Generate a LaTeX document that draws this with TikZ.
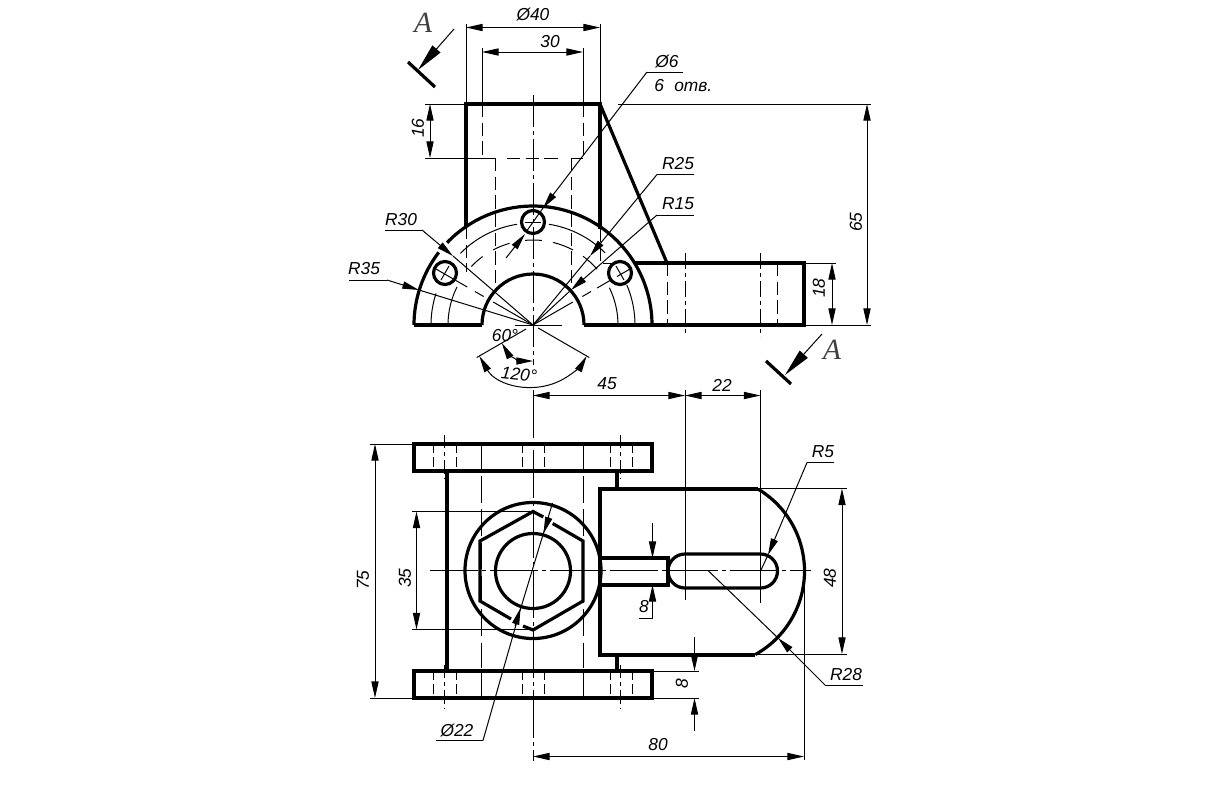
\documentclass[tikz,border=0pt]{standalone}
\usepackage{fontspec}
\setmainfont{Liberation Sans}
\newfontfamily\cutfont{Liberation Serif}
\usetikzlibrary{arrows.meta}
\tikzset{
  contour/.style={line width=2.4pt,line join=miter},
  thinline/.style={line width=0.75pt},
  hidden/.style={line width=0.75pt,dash pattern=on 10pt off 4pt},
  axisline/.style={line width=0.75pt,dash pattern=on 24pt off 3pt on 3pt off 3pt},
  dimline/.style={line width=0.75pt,{Triangle[length=12.5pt,width=5.4pt]}-{Triangle[length=12.5pt,width=5.4pt]}},
  leader/.style={line width=0.75pt,-{Triangle[length=12.5pt,width=5.4pt]}},
  cutarrow/.style={line width=0.75pt,-{Triangle[length=21pt,width=8pt]}},
  lbl/.style={font=\itshape\fontsize{13}{15}\selectfont,inner sep=0pt},
  cutlbl/.style={font=\cutfont\itshape\fontsize{22}{24}\selectfont,inner sep=0pt,text=black!75}
}
\begin{document}
\begin{tikzpicture}[x=0.75pt,y=-0.75pt]
\path[use as bounding box,fill=white] (0,0) rectangle (1224,786);

\draw[contour] (466,226) -- (466,104) -- (600,104) -- (600,229);
\draw[contour] (600,104) -- (667,263);
\draw[contour] (634,263) -- (804,263) -- (804,325) -- (584,325);
\draw[contour] (482,325) -- (414,325);
\draw[contour] (414,325) arc (180:217.6:119);
\draw[contour] (533,325) ++(223.8:119) arc (223.8:360:119);
\draw[contour] (584,325) arc (360:180:51);
\draw[contour] (533,222) circle (11.5);
\draw[contour] (445,273) circle (11.5);
\draw[contour] (620,273) circle (11.5);

\foreach \a/\b in {180/198,224.6/261,279/315,337/360}
  \draw[thinline] (533,325) ++(\a:102) arc (\a:\b:102);
\foreach \a/\b in {180/206.6,223.5/233.7,242/254,264.7/276,283.6/298,306/319,334/360}
  \draw[thinline] (533,325) ++(\a:85) arc (\a:\b:85);

\draw[thinline] (533,325) -- ++(210:46);
\draw[thinline] (533,325) ++(210:57) -- ++(210:10);
\draw[thinline] (533,325) ++(210:76) -- ++(210:36);
\draw[thinline] (533,325) -- ++(330:46);
\draw[thinline] (533,325) ++(330:57) -- ++(330:10);
\draw[thinline] (533,325) ++(330:74) -- ++(330:15);
\draw[thinline] (533,325) ++(330:97) -- ++(330:15);
\draw[thinline] (525,222) -- (541,222);
\draw[thinline] (449,266) -- (441,280);
\draw[thinline] (616,266) -- (624,280);

\draw[axisline] (533,95) -- (533,365);
\draw[thinline] (515,325) -- (562,325);
\draw[hidden] (482,104) -- (482,158);
\draw[hidden] (583,104) -- (583,158);
\draw[thinline] (425,158) -- (495,158);
\draw[hidden] (507,158) -- (560,158);
\draw[thinline] (571,158) -- (583,158);
\draw[hidden] (495,158) -- (495,291);
\draw[hidden] (571,158) -- (571,291);
\draw[hidden] (466,226) -- (466,272);
\draw[hidden] (600,229) -- (600,263) -- (617,263);
\draw[hidden] (667,263) -- (667,325);
\draw[hidden] (777,263) -- (777,325);
\draw[axisline,dash pattern=on 12pt off 3pt on 3pt off 3pt] (685,253) -- (685,336);
\draw[axisline,dash pattern=on 12pt off 3pt on 3pt off 3pt] (760.5,253) -- (760.5,337);

\draw[thinline] (466,24) -- (466,104);
\draw[thinline] (600,24) -- (600,104);
\draw[dimline] (466,27.5) -- (600,27.5);
\node[lbl] (diaforty) at (533,15) {Ø40};
\draw[thinline] (482,48) -- (482,104);
\draw[thinline] (583,48) -- (583,104);
\draw[dimline] (482,52) -- (583,52);
\node[lbl] (thirty) at (550,42) {30};
\draw[thinline] (425,104) -- (466,104);
\draw[thinline] (618,104) -- (871,104);
\draw[dimline] (430,104) -- (430,158);
\node[lbl,rotate=90] (sixteen) at (418,128) {16};
\draw[thinline] (804,325) -- (871,325);
\draw[thinline] (804,263) -- (836,263);
\draw[dimline] (867,104) -- (867,325);
\node[lbl,rotate=90] (sixtyfive) at (856,222) {65};
\draw[dimline] (832,263) -- (832,325);
\node[lbl,rotate=90] (eighteen) at (819,288) {18};

\draw[contour] (408,62) -- (435,87);
\draw[cutarrow] (454,29) -- (418,70);
\node[cutlbl] (cuttop) at (423,23) {A};
\draw[contour] (766,361) -- (791,384);
\draw[cutarrow] (822,334) -- (785,375);
\node[cutlbl] (cutbottom) at (832,350) {A};

\draw[thinline] (683,72) -- (647,72);
\draw[leader] (647,72) -- (543,208);
\draw[thinline] (543,208) -- (526,232);
\draw[leader] (506,258) -- (525,234);
\node[lbl] (diasix) at (667,62) {Ø6};
\node[lbl,anchor=west] (sixholes) at (654,86) {6\hspace{0.6em}отв.};
\draw[thinline] (694,174.5) -- (657,174.5);
\draw[leader] (657,174.5) -- (590,256);
\draw[thinline] (590,256) -- (533,325);
\node[lbl] (rtwentyfive) at (678,164) {R25};
\draw[thinline] (694,215) -- (657,215);
\draw[leader] (657,215) -- (571,290);
\draw[thinline] (571,290) -- (533,325);
\node[lbl] (rfifteen) at (678,204) {R15};
\draw[thinline] (385,230) -- (422,230);
\draw[leader] (422,230) -- (453,256);
\draw[thinline] (453,256) -- (533,325);
\node[lbl] (rthirty) at (401,220) {R30};
\draw[thinline] (349,280) -- (387,280);
\draw[leader] (387,280) -- (419,290);
\draw[thinline] (419,290) -- (533,325);
\node[lbl] (rthirtyfive) at (364,269) {R35};

\draw[thinline] (533,325) ++(150:8) -- ++(150:57);
\draw[thinline] (533,325) ++(30:6) -- ++(30:59);
\draw[dimline] (533,325) ++(150:62) arc (150:30:62);
\draw[dimline] (533,325) ++(150:36) arc (150:90:36);
\node[lbl] (sixtydeg) at (505,336) {60°};
\node[lbl,rotate=-6] (onetwenty) at (519,374) {120°};

\draw[contour] (414,444) rectangle (652,471);
\draw[contour] (414,671) rectangle (652,698);
\draw[contour] (447,471) -- (447,671);
\draw[contour] (617,471) -- (617,489);
\draw[contour] (617,655) -- (617,671);
\draw[contour] (758,489) -- (600,489) -- (600,655) -- (755,655);
\draw[contour] (709,571) ++(-59:95.5) arc (-59:61:95.5);
\draw[contour] (533,570.5) circle (68);
\draw[contour] (533,571) circle (37.5);
\draw[contour] (543.3,517) -- (533,511.5) -- (480,541) -- (480,601) -- (511,619);
\draw[contour] (523,626) -- (533,630) -- (583,601) -- (583,541) -- (552.7,523.5);
\draw[contour] (600,558) -- (668,558) -- (668,585) -- (600,585);
\draw[contour] (685,554) -- (760.5,554) arc (-90:90:17) -- (685,588) arc (90:270:17) -- cycle;

\foreach \xpos in {481,583} {
  \draw[thinline] (\xpos,444) -- (\xpos,471);
  \draw[thinline] (\xpos,671) -- (\xpos,698);
  \draw[hidden,dash pattern=on 20pt off 5pt] (\xpos,476) -- (\xpos,668);
}
\foreach \xpos in {433,456,522,544,610,632} {
  \draw[hidden,dash pattern=on 7pt off 3pt] (\xpos,444) -- (\xpos,471);
  \draw[hidden,dash pattern=on 7pt off 3pt] (\xpos,671) -- (\xpos,698);
}
\foreach \xpos in {444,620.5} {
  \draw[axisline,dash pattern=on 10pt off 3pt on 3pt off 3pt] (\xpos,435) -- (\xpos,479);
  \draw[axisline,dash pattern=on 10pt off 3pt on 3pt off 3pt] (\xpos,665) -- (\xpos,709);
}
\draw[axisline,dash pattern=on 36pt off 3pt on 3pt off 3pt] (533,390) -- (533,761);
\draw[axisline,dash pattern=on 36pt off 3pt on 3pt off 3pt] (430,570) -- (811,570);

\draw[thinline] (685,390) -- (685,600);
\draw[thinline] (760.5,390) -- (760.5,603);
\draw[dimline] (533,395.5) -- (685,395.5);
\draw[dimline] (685,395.5) -- (760.5,395.5);
\node[lbl] (fortyfive) at (607,384) {45};
\node[lbl] (twentytwo) at (722,385) {22};
\draw[thinline] (804,570) -- (804,760);
\draw[dimline] (533,756.5) -- (804,756.5);
\node[lbl] (eighty) at (658,745) {80};

\draw[thinline] (370,444) -- (414,444);
\draw[thinline] (370,698) -- (414,698);
\draw[dimline] (375,444) -- (375,698);
\node[lbl,rotate=90] (seventyfive) at (363,580) {75};
\draw[thinline] (412,511.5) -- (533,511.5);
\draw[thinline] (412,629.5) -- (533,629.5);
\draw[dimline] (416.5,511.5) -- (416.5,629.5);
\node[lbl,rotate=90] (thirtyfive) at (405,578) {35};

\draw[thinline] (758,488.5) -- (847,488.5);
\draw[thinline] (755,654) -- (847,654);
\draw[dimline] (842,488.5) -- (842,654);
\node[lbl,rotate=90] (fortyeight) at (830,578) {48};

\draw[leader] (652.5,523) -- (652.5,558);
\draw[leader] (652.5,618) -- (652.5,585);
\draw[thinline] (639,618) -- (652.5,618);
\node[lbl] (eightslot) at (644,607) {8};
\draw[thinline] (652,671) -- (699,671);
\draw[thinline] (652,698) -- (699,698);
\draw[leader] (694.5,637) -- (694.5,671);
\draw[leader] (694.5,731) -- (694.5,698);
\node[lbl,rotate=90] (eightflange) at (682,684) {8};

\draw[thinline] (807,462.5) -- (834,462.5);
\draw[leader] (807,462.5) -- (768,555);
\draw[thinline] (768,555) -- (761,570);
\node[lbl] (rfive) at (823,452) {R5};
\draw[thinline] (825,685) -- (863,685);
\draw[leader] (825,685) -- (778,638);
\draw[thinline] (778,638) -- (708,570.5);
\node[lbl] (rtwentyeight) at (846,675) {R28};

\draw[thinline] (436,740.5) -- (483,740.5);
\draw[thinline] (483,740.5) -- (520.5,609);
\draw[thinline] (520.5,609) -- (543.5,533);
\draw[thinline] (543.5,533) -- (552.5,503);
\draw[leader] (515,626) -- (520.5,608);
\draw[leader] (549,517) -- (543.5,533.5);
\node[lbl] (diatwentytwo) at (457,731) {Ø22};
\end{tikzpicture}
\end{document}
